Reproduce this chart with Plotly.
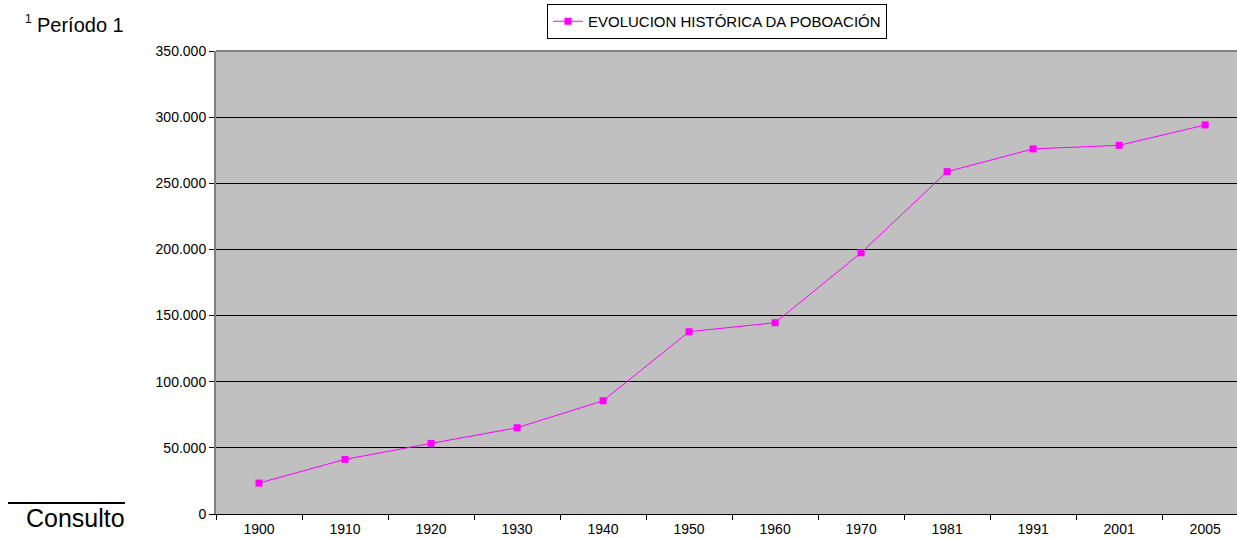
import plotly.graph_objects as go

# ---- data ----
years = ["1900", "1910", "1920", "1930", "1940", "1950", "1960", "1970", "1981", "1991", "2001", "2005"]
population = [23400, 41300, 53400, 65200, 85600, 137800, 144600, 197500, 258800, 276000, 278700, 294100]
series_name = "EVOLUCION HISTÓRICA DA POBOACIÓN"
y_ticks = [0, 50000, 100000, 150000, 200000, 250000, 300000, 350000]

# ---- layout geometry (pixels) ----
W_FIG, H_FIG = 1237, 538
L, R, T, B = 216, 0, 51, 24
PW = W_FIG - L - R
PH = H_FIG - T - B
BOTTOM = H_FIG - B


def px(xp):
    return (xp - L) / PW


def py(yp):
    return (BOTTOM - yp) / PH


FONT = "Liberation Sans, Arial, sans-serif"
MAG = "#FF00FF"

fig = go.Figure()
fig.add_trace(go.Scatter(
    x=years, y=population, mode="lines+markers", name=series_name,
    line=dict(color=MAG, width=1),
    marker=dict(symbol="square", size=7, color=MAG, line=dict(width=0)),
))

fig.update_layout(
    width=W_FIG, height=H_FIG,
    margin=dict(l=L, r=R, t=T, b=B, pad=0, autoexpand=False),
    paper_bgcolor="white", plot_bgcolor="#C0C0C0",
    separators=",.",
    font=dict(family=FONT, size=14, color="black"),
    showlegend=True,
    legend=dict(
        x=px(547), y=py(4), xanchor="left", yanchor="top",
        bgcolor="white", bordercolor="black", borderwidth=1,
        font=dict(family=FONT, size=15, color="black"),
        orientation="h", itemwidth=30,
    ),
    xaxis=dict(
        type="category", range=[-0.5, 11.37],
        tickson="boundaries", ticks="outside", ticklen=5, tickcolor="black",
        showline=True, linecolor="black", linewidth=1, mirror=False,
        showgrid=False, zeroline=False, automargin=False,
        tickfont=dict(family=FONT, size=14, color="black"),
        ticklabelstandoff=2,
        fixedrange=True,
    ),
    yaxis=dict(
        range=[0, 350000], tickvals=y_ticks, tickformat=",d",
        ticks="outside", ticklen=5, tickcolor="black",
        showline=True, linecolor="#808080", linewidth=2, mirror=False,
        showgrid=True, gridcolor="black", gridwidth=1, zeroline=False,
        automargin=False,
        tickfont=dict(family=FONT, size=14, color="black"),
        fixedrange=True,
    ),
    shapes=[
        dict(type="line", xref="paper", yref="paper", x0=0, x1=1, y0=1, y1=1,
             line=dict(color="#808080", width=2), layer="above"),
        dict(type="line", xref="paper", yref="paper", x0=px(8), x1=px(125),
             y0=py(503), y1=py(503), line=dict(color="black", width=2)),
    ],
    annotations=[
        dict(text="1", xref="paper", yref="paper", x=px(23), y=py(19),
             xanchor="left", yanchor="middle", showarrow=False,
             font=dict(family=FONT, size=12, color="black")),
        dict(text="Período 1", xref="paper", yref="paper", x=px(35), y=py(24.5),
             xanchor="left", yanchor="middle", showarrow=False,
             font=dict(family=FONT, size=20, color="black")),
        dict(text="Consulto", xref="paper", yref="paper", x=px(25), y=py(518),
             xanchor="left", yanchor="middle", showarrow=False, align="left",
             width=100, borderpad=0,
             font=dict(family=FONT, size=25, color="black")),
    ],
)

fig.write_html(
    "out.html",
    config={"displayModeBar": False},
    post_script="document.body.style.margin='0';document.body.style.overflow='hidden';",
)
